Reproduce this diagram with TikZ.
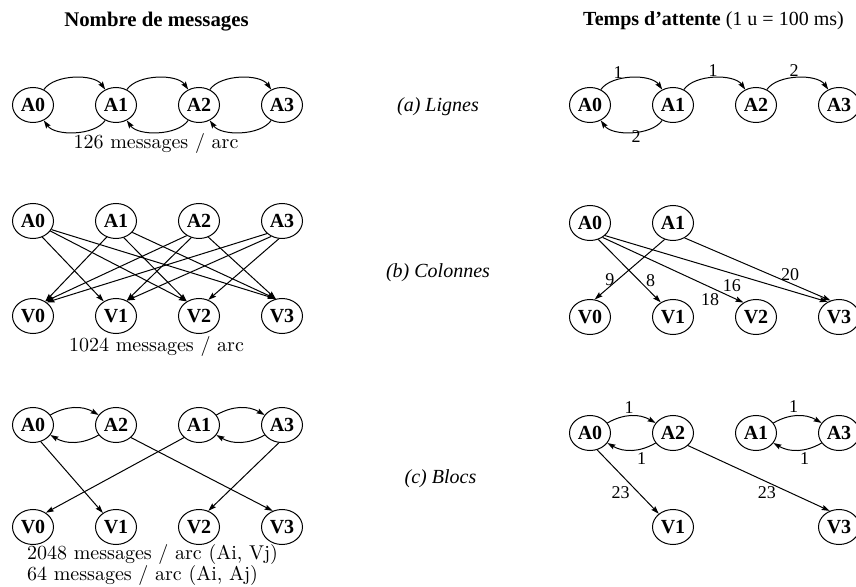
\documentclass[tikz,border=0pt]{standalone}
\usepackage{fontspec}
\newfontfamily\tms{Liberation Serif}
\usetikzlibrary{shapes.geometric,arrows.meta}
\begin{document}
\begin{tikzpicture}[x=0.5pt,y=-0.5pt,
  st/.style={ellipse,draw,line width=0.5pt,minimum width=20.5pt,minimum height=17.5pt,inner sep=0pt,font=\tms\bfseries},
  arr/.style={line width=0.5pt,-{Stealth[length=4pt,width=2.6pt,inset=0.6pt]}},
  lab/.style={font=\tms\fontsize{9}{11}\selectfont,inner sep=0pt},
  txt/.style={inner sep=0pt},
  upa/.style={out=55,in=125,looseness=0.8},
  loa/.style={out=-125,in=-55,looseness=0.8},
  upc/.style={out=30,in=150},
  loc/.style={out=-150,in=-30}]
\useasboundingbox (0,0) rectangle (856,587);

% headings
\node[txt,anchor=base] (h1) at (156.5,26.5) {\tms\bfseries\fontsize{10.4}{12}\selectfont Nombre de messages};
\node[txt,anchor=base] (h2) at (713.5,26) {\tms\textbf{Temps d’attente} (1 u = 100 ms)};

% middle labels
\node[txt,anchor=base] (ma) at (438,111.5) {\tms\itshape (a) Lignes};
\node[txt,anchor=base] (mb) at (438,278) {\tms\itshape (b) Colonnes};
\node[txt,anchor=base] (mc) at (440.5,483) {\tms\itshape (c) Blocs};

% ---------- left (a)
\node[st] (LaA0) at (33,105) {A0};
\node[st] (LaA1) at (116,105) {A1};
\node[st] (LaA2) at (199,105) {A2};
\node[st] (LaA3) at (282,105) {A3};
\draw[arr] (LaA0) to[upa] (LaA1);
\draw[arr] (LaA1) to[upa] (LaA2);
\draw[arr] (LaA2) to[upa] (LaA3);
\draw[arr] (LaA1) to[loa] (LaA0);
\draw[arr] (LaA2) to[loa] (LaA1);
\draw[arr] (LaA3) to[loa] (LaA2);
\node[txt,anchor=base] (capa) at (156,149) {126 messages / arc};

% ---------- left (b)
\node[st] (LbA0) at (33,221) {A0};
\node[st] (LbA1) at (116,221) {A1};
\node[st] (LbA2) at (199,221) {A2};
\node[st] (LbA3) at (282,221) {A3};
\node[st] (LbV0) at (33,316) {V0};
\node[st] (LbV1) at (116,316) {V1};
\node[st] (LbV2) at (199,316) {V2};
\node[st] (LbV3) at (282,316) {V3};
\draw[arr] (LbA0.-60) -- (LbV1.130);
\draw[arr] (LbA0.-30) -- (LbV2.130);
\draw[arr] (LbA0.-25) -- (LbV3.110);
\draw[arr] (LbA1.-120) -- (LbV0.50);
\draw[arr] (LbA1.-65) -- (LbV2.130);
\draw[arr] (LbA1.-35) -- (LbV3.110);
\draw[arr] (LbA2.-130) -- (LbV0.50);
\draw[arr] (LbA2.-115) -- (LbV1.55);
\draw[arr] (LbA2.-60) -- (LbV3.110);
\draw[arr] (LbA3.-140) -- (LbV0.45);
\draw[arr] (LbA3.-125) -- (LbV1.55);
\draw[arr] (LbA3.-100) -- (LbV2.60);
\node[txt,anchor=base] (capb) at (156.5,352) {1024 messages / arc};

% ---------- left (c)
\node[st] (LcA0) at (33,425) {A0};
\node[st] (LcA2) at (116,425) {A2};
\node[st] (LcA1) at (199,425) {A1};
\node[st] (LcA3) at (282,425) {A3};
\node[st] (LcV0) at (33,527) {V0};
\node[st] (LcV1) at (116,527) {V1};
\node[st] (LcV2) at (199,527) {V2};
\node[st] (LcV3) at (282,527) {V3};
\draw[arr] (LcA0) to[upc] (LcA2);
\draw[arr] (LcA2) to[loc] (LcA0);
\draw[arr] (LcA1) to[upc] (LcA3);
\draw[arr] (LcA3) to[loc] (LcA1);
\draw[arr] (LcA0.-65) -- (LcV1.133);
\draw[arr] (LcA2.-40) -- (LcV3.120);
\draw[arr] (LcA1.-140) -- (LcV0.48);
\draw[arr] (LcA3.-100) -- (LcV2.60);
\node[txt,anchor=base west] (capc1) at (26.7,559) {2048 messages / arc (Ai, Vj)};
\node[txt,anchor=base west] (capc2) at (26.7,580) {64 messages / arc (Ai, Aj)};

% ---------- right (a)
\node[st] (RaA0) at (590,105) {A0};
\node[st] (RaA1) at (673,105) {A1};
\node[st] (RaA2) at (756,105) {A2};
\node[st] (RaA3) at (839,105) {A3};
\draw[arr] (RaA0) to[upa] node[lab,pos=0.5,shift={(-13.5,-5.5)}] (ra1) {1} (RaA1);
\draw[arr] (RaA1) to[upa] node[lab,pos=0.5,shift={(-1.5,-7)}] (ra2) {1} (RaA2);
\draw[arr] (RaA2) to[upa] node[lab,pos=0.5,shift={(-3.5,-7.5)}] (ra3) {2} (RaA3);
\draw[arr] (RaA1) to[loa] node[lab,pos=0.5,shift={(4.5,4.5)}] (ra4) {2} (RaA0);

% ---------- right (b)
\node[st] (RbA0) at (590,223) {A0};
\node[st] (RbA1) at (673,223) {A1};
\node[st] (RbV0) at (590,317) {V0};
\node[st] (RbV1) at (673,317) {V1};
\node[st] (RbV2) at (756,317) {V2};
\node[st] (RbV3) at (839,317) {V3};
\draw[arr] (RbA1.-117) -- node[lab,pos=0.5,shift={(-19.7,9.8)}] (rb1) {9} (RbV0.75);
\draw[arr] (RbA0.-63) -- node[lab,pos=0.5,shift={(21,9.4)}] (rb2) {8} (RbV1.130);
\draw[arr] (RbA0.-49) -- node[lab,pos=0.5,shift={(37,29.3)}] (rb3) {18} (RbV2.131);
\draw[arr] (RbA0.-40) -- node[lab,pos=0.5,shift={(15.5,16.5)}] (rb4) {16} (RbV3.127);
\draw[arr] (RbA1.-52) -- node[lab,pos=0.5,shift={(32.4,5)}] (rb5) {20} (RbV3.117);

% ---------- right (c)
\node[st] (RcA0) at (590,433) {A0};
\node[st] (RcA2) at (673,433) {A2};
\node[st] (RcA1) at (756,433) {A1};
\node[st] (RcA3) at (839,433) {A3};
\node[st] (RcV1) at (673,527) {V1};
\node[st] (RcV3) at (839,527) {V3};
\draw[arr] (RcA0) to[upc] node[lab,pos=0.5,shift={(-2.5,-8.7)}] (rc1) {1} (RcA2);
\draw[arr] (RcA2) to[loc] node[lab,pos=0.5,shift={(10,8.3)}] (rc2) {1} (RcA0);
\draw[arr] (RcA1) to[upc] node[lab,pos=0.5,shift={(-4,-9.7)}] (rc3) {1} (RcA3);
\draw[arr] (RcA3) to[loc] node[lab,pos=0.5,shift={(7,8.3)}] (rc4) {1} (RcA1);
\draw[arr] (RcA0.-67) -- node[lab,pos=0.5,shift={(-7.4,10.9)}] (rc5) {23} (RcV1.137);
\draw[arr] (RcA2.-40) -- node[lab,pos=0.5,shift={(7.9,14.2)}] (rc6) {23} (RcV3.120);
\end{tikzpicture}
\end{document}
